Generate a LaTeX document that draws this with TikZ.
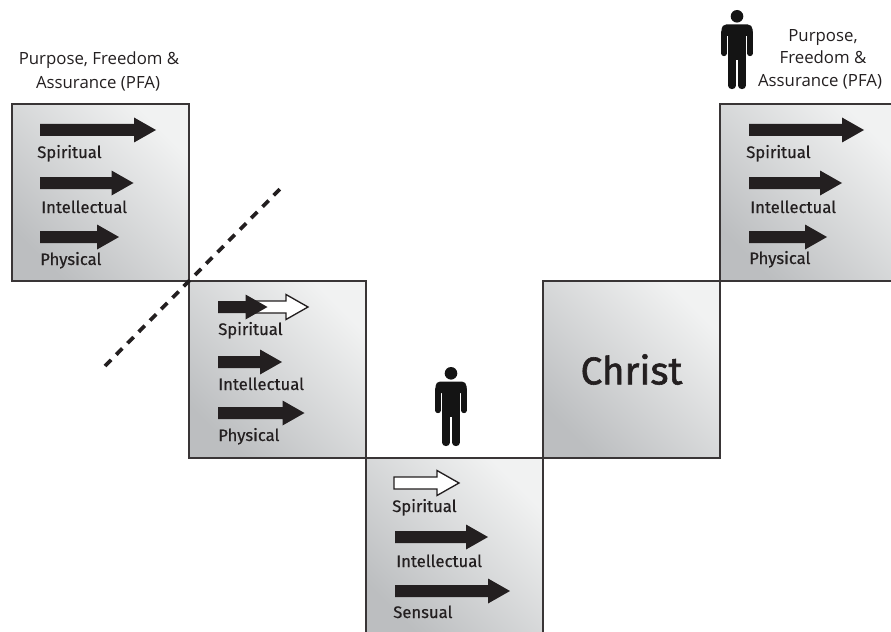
\documentclass[tikz,border=0pt]{standalone}
\usepackage{fontspec}
\setmainfont{Open Sans}
\newfontfamily\din[RawFeature={embolden=0.5}]{Fira Sans}
\newfontfamily\dinheavy[RawFeature={embolden=1.5}]{Fira Sans}
\definecolor{ink}{HTML}{231F20}
\definecolor{panellow}{HTML}{BCBEC0}
\definecolor{panelhigh}{HTML}{F1F2F2}
\tikzset{
  panel/.style={draw=ink!90, line width=1.5pt, minimum width=132.75pt, minimum height=132.75pt,
    inner sep=0pt, bottom color=panellow, top color=panelhigh, shading angle=-45},
  tag/.style={anchor=base west, inner sep=0pt, text=ink, font=\din\fontsize{12.5}{14}\selectfont},
  pfa/.style={anchor=base, inner sep=0pt, text=ink, font=\fontsize{12.6}{15}\selectfont},
  hollow/.style={draw=ink, line width=1pt, fill=white, line join=miter}
}
\newcommand{\solidarrow}[3]{
  \fill[ink] (#1,#3-6) -- (#2-22,#3-6) -- (#2-22,#3-12.5) -- (#2,#3) -- (#2-22,#3+12.5) -- (#2-22,#3+6) -- (#1,#3+6) -- cycle;
}
\newcommand{\hollowarrow}[3]{
  \draw[hollow] (#1,#3-6) -- (#2-22,#3-6) -- (#2-22,#3-12.5) -- (#2,#3) -- (#2-22,#3+12.5) -- (#2-22,#3+6) -- (#1,#3+6) -- cycle;
}
\newcommand{\person}[2]{
  \begin{scope}[shift={(#1,#2)}]
    \fill[black!92] (0,6.3) circle (6.3);
    \fill[black!92, rounded corners=3.5pt] (-15.5,26) -- (-15.5,14.5) -- (15.5,14.5) -- (15.5,26) -- cycle;
    \fill[black!92] (-8.7,20) rectangle (8.7,50);
    \draw[black!92, line width=4pt, line cap=round] (-13,22) -- (-13,43.5) (13,22) -- (13,43.5);
    \draw[black!92, line width=5.5pt, line cap=round] (-4.9,45) -- (-4.9,75.5) (4.9,45) -- (4.9,75.5);
  \end{scope}
}
\begin{document}
\begin{tikzpicture}[x=0.75pt, y=-0.75pt]
  \useasboundingbox (0,0) rectangle (891,631);
  \clip (0,0) rectangle (891,631);
  % boxes
  \node[panel] (BoxStart) at (100,192.5) {};
  \node[panel] (BoxFall) at (277.5,369.5) {};
  \node[panel] (BoxLow) at (454.5,546.5) {};
  \node[panel, font=\dinheavy\fontsize{29}{34}\selectfont, text=ink] (BoxChrist) at (631.5,369.5) {Christ};
  \node[panel] (BoxEnd) at (808.5,192.5) {};
  % first box
  \solidarrow{40}{156}{130}
  \solidarrow{40}{133.5}{183}
  \solidarrow{40}{119}{237}
  \node[tag] (SpiritA) at (37,158) {Spiritual};
  \node[tag] (IntelA) at (41,213) {Intellectual};
  \node[tag] (PhysA) at (40,265) {Physical};
  \node[pfa] (PfaA) at (99,65) {Purpose, Freedom \&};
  \node[pfa] (PfaB) at (98,89) {Assurance (PFA)};
  % second box
  \hollowarrow{250}{308}{307}
  \solidarrow{218}{267.5}{307}
  \solidarrow{218}{282}{362}
  \solidarrow{218}{304.5}{413}
  \node[tag] (SpiritB) at (218,335) {Spiritual};
  \node[tag] (IntelB) at (218,390) {Intellectual};
  \node[tag] (PhysB) at (218,441) {Physical};
  % third box
  \hollowarrow{394}{459}{483}
  \solidarrow{395}{488}{537}
  \solidarrow{395}{510}{591}
  \node[tag] (SpiritC) at (392,512) {Spiritual};
  \node[tag] (IntelC) at (396,567) {Intellectual};
  \node[tag] (SensC) at (393,618) {Sensual};
  % last box
  \solidarrow{749}{864}{130}
  \solidarrow{749}{842}{183}
  \solidarrow{749}{827}{237}
  \node[tag] (SpiritD) at (746,158) {Spiritual};
  \node[tag] (IntelD) at (750,213) {Intellectual};
  \node[tag] (PhysD) at (749,264) {Physical};
  \node[pfa] (PfaC) at (823,42) {Purpose,};
  \node[pfa] (PfaD) at (823,64) {Freedom \&};
  \node[pfa] (PfaE) at (820,87) {Assurance (PFA)};
  % people
  \person{451}{367}
  \person{737}{10}
  % the slash
  \coordinate (SlashA) at (105,366);
  \coordinate (SlashB) at (281,188);
  \draw[ink, line width=2.8pt, dash pattern=on 6.5pt off 5.5pt] (SlashA) -- (SlashB);
\end{tikzpicture}
\end{document}
